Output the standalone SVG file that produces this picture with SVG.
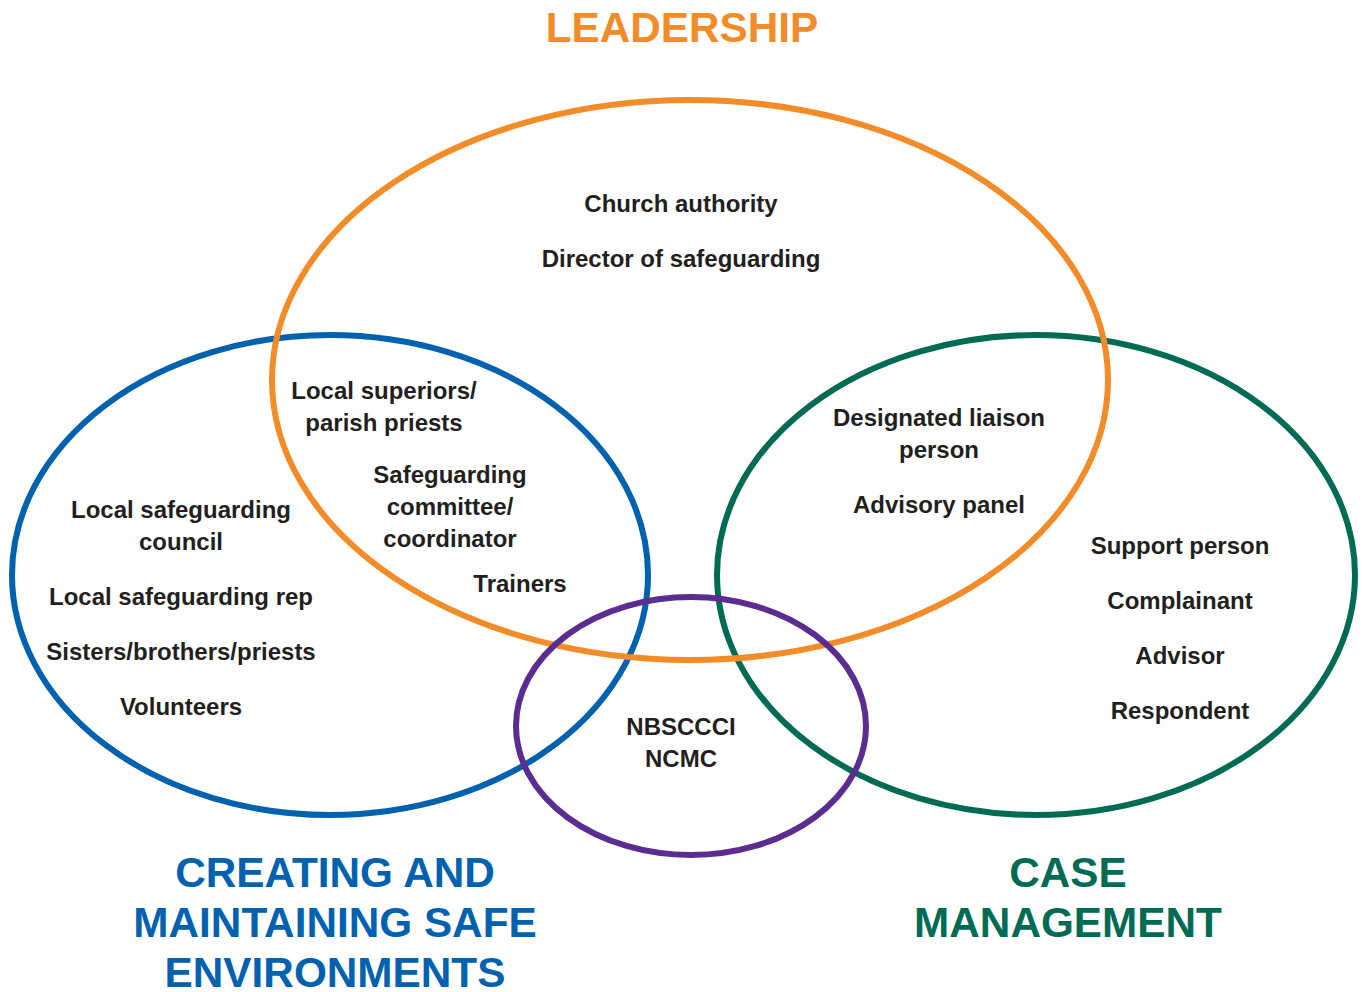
<svg xmlns="http://www.w3.org/2000/svg" width="1363" height="992" viewBox="0 0 1363 992">
<style>
.c{fill:none;stroke-width:6}
.t{font-family:"Liberation Sans",Arial,sans-serif;font-weight:bold;font-size:24px;fill:#231f20;text-anchor:middle}
.h{font-family:"Liberation Sans",Arial,sans-serif;font-weight:bold;font-size:42.3px;text-anchor:middle}
</style>
<rect width="1363" height="992" fill="#fff"/>
<g id="connectors"></g>
<g id="safe-environments">
<ellipse class="c" cx="330" cy="575" rx="318" ry="240" stroke="#0061af"/>
</g>
<g id="case-management">
<ellipse class="c" cx="1036" cy="575" rx="319" ry="240" stroke="#006b54"/>
</g>
<g id="leadership">
<ellipse class="c" cx="690" cy="380" rx="418" ry="280" stroke="#f28c28"/>
</g>
<g id="national">
<ellipse class="c" cx="691" cy="726" rx="175" ry="129" stroke="#5c2d91"/>
</g>
<g id="titles">
<text class="h" x="682" y="42" fill="#f28c28">LEADERSHIP</text>
<text class="h" x="335" y="887" fill="#0061af">CREATING AND</text>
<text class="h" x="335" y="937" fill="#0061af">MAINTAINING SAFE</text>
<text class="h" x="335" y="987" fill="#0061af">ENVIRONMENTS</text>
<text class="h" x="1068" y="887" fill="#006b54">CASE</text>
<text class="h" x="1068" y="937" fill="#006b54">MANAGEMENT</text>
</g>
<g id="labels">
<text class="t" x="681" y="212">Church authority</text>
<text class="t" x="681" y="267">Director of safeguarding</text>
<text class="t" x="384" y="399">Local superiors/</text>
<text class="t" x="384" y="431">parish priests</text>
<text class="t" x="450" y="483">Safeguarding</text>
<text class="t" x="450" y="515">committee/</text>
<text class="t" x="450" y="547">coordinator</text>
<text class="t" x="520" y="592">Trainers</text>
<text class="t" x="181" y="518">Local safeguarding</text>
<text class="t" x="181" y="550">council</text>
<text class="t" x="181" y="605">Local safeguarding rep</text>
<text class="t" x="181" y="660">Sisters/brothers/priests</text>
<text class="t" x="181" y="715">Volunteers</text>
<text class="t" x="939" y="426">Designated liaison</text>
<text class="t" x="939" y="458">person</text>
<text class="t" x="939" y="513">Advisory panel</text>
<text class="t" x="1180" y="554">Support person</text>
<text class="t" x="1180" y="609">Complainant</text>
<text class="t" x="1180" y="664">Advisor</text>
<text class="t" x="1180" y="719">Respondent</text>
<text class="t" x="681" y="735">NBSCCCI</text>
<text class="t" x="681" y="767">NCMC</text>
</g>
</svg>
